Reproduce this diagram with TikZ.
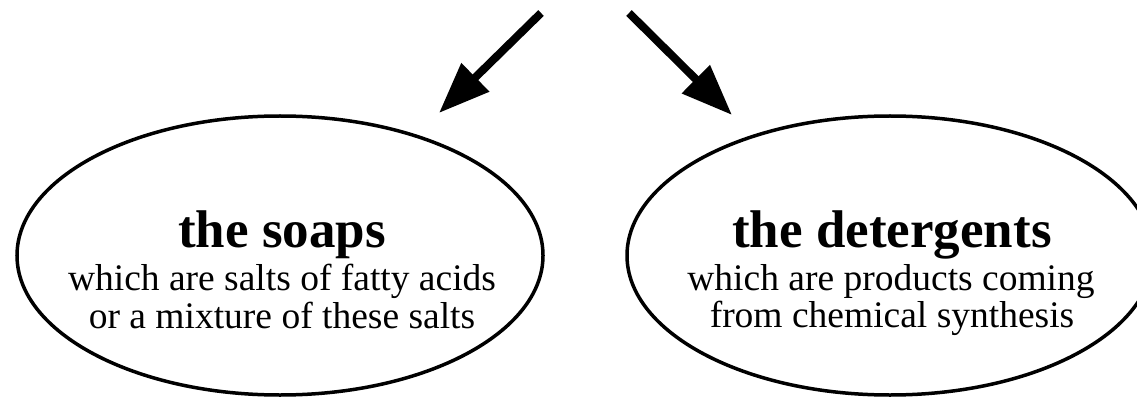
\documentclass[tikz,border=0pt]{standalone}
\usepackage{fontspec}
\setmainfont{Liberation Serif}
\usetikzlibrary{shapes.geometric,arrows.meta}
\tikzset{
  bubble/.style={draw=black, line width=3.5pt, ellipse, inner sep=0pt,
    minimum width=526pt, minimum height=279pt},
  title/.style={anchor=base, inner sep=0pt, font=\fontsize{53}{53}\selectfont\bfseries},
  sub/.style={anchor=base, inner sep=0pt, font=\fontsize{37.5}{38}\selectfont},
  bigarrow/.style={line width=8pt, -{Triangle[length=51pt,width=38pt]}}
}
\begin{document}
\begin{tikzpicture}[x=1pt,y=-1pt]
\useasboundingbox (0,0) rectangle (1137,398);
\clip (0,0) rectangle (1137,398);
\node[bubble] (soaps) at (280,255.5) {};
\node[bubble] (deter) at (890,255.5) {};
\node[title] (t1) at (282,247) {the soaps};
\node[sub] (l1a) at (282,290) {which are salts of fatty acids};
\node[sub] (l1b) at (282,328) {or a mixture of these salts};
\node[title] (t2) at (892,247) {the detergents};
\node[sub] (l2a) at (891,290) {which are products coming};
\node[sub] (l2b) at (892,327) {from chemical synthesis};
\coordinate (s1) at (541,13);
\coordinate (e1) at (439,113);
\coordinate (s2) at (629,13);
\coordinate (e2) at (732,115);
\draw[bigarrow] (s1) -- (e1);
\draw[bigarrow] (s2) -- (e2);
\end{tikzpicture}
\end{document}
